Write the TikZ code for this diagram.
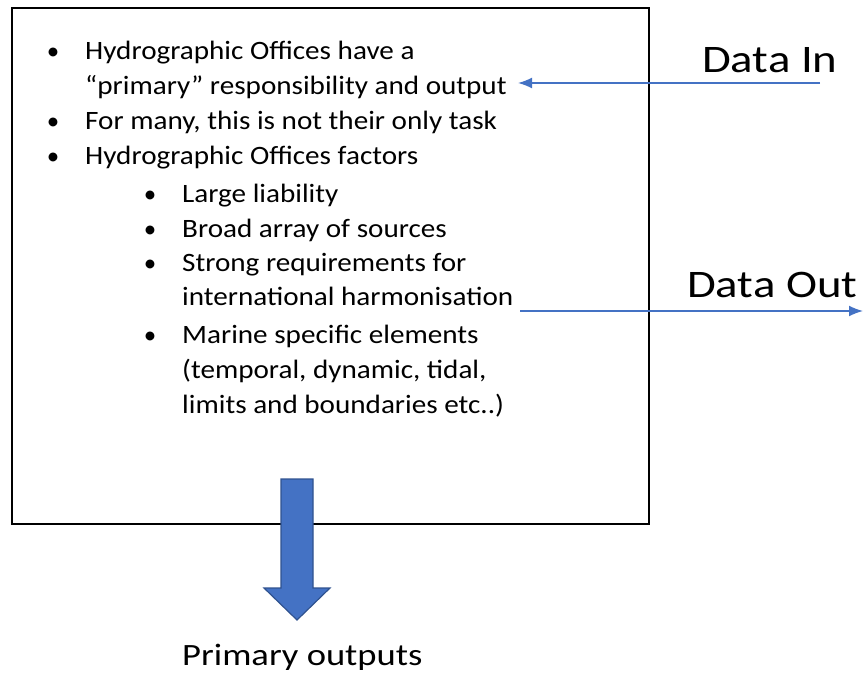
\documentclass[tikz,border=0pt]{standalone}
\usepackage{fontspec}
\usepackage{graphicx}
\setmainfont{Carlito}
\usetikzlibrary{arrows.meta}
\definecolor{arrblue}{HTML}{4472C4}
\definecolor{arrdark}{HTML}{2F528F}
\newcommand\hsb[1]{\scalebox{1.10}[1]{#1}}
\newcommand\hsl[1]{\scalebox{1.2}[1]{#1}}
\newcommand\hsm[1]{\scalebox{1.18}[1]{#1}}
\begin{document}
\begin{tikzpicture}[x=1pt,y=-1pt,
  txt/.style={anchor=base west,inner sep=0pt,font=\fontsize{26.5}{30}\selectfont},
  bul/.style={anchor=base,inner sep=0pt,font=\fontsize{25}{30}\selectfont},
  big/.style={anchor=base west,inner sep=0pt,font=\fontsize{39}{44}\selectfont},
  mid/.style={anchor=base west,inner sep=0pt,font=\fontsize{31}{36}\selectfont},
  flow/.style={draw=arrblue,line width=1.6pt,-{Latex[length=14pt,width=11pt]}}]
\useasboundingbox (0,0) rectangle (863,674);
\node[draw=black,line width=1.8pt,minimum width=637pt,minimum height=516pt,anchor=north west,inner sep=0pt] (box) at (11,7) {};
% level 1
\node[bul] (b1) at (53,60) {•};
\node[txt] (t1) at (85,60) {\hsb{Hydrographic Offices have a}};
\node[txt] (t2) at (85,95) {\hsb{“primary” responsibility and output}};
\node[bul] (b2) at (53,130) {•};
\node[txt] (t3) at (85,130) {\hsb{For many, this is not their only task}};
\node[bul] (b3) at (53,165) {•};
\node[txt] (t4) at (85,165) {\hsb{Hydrographic Offices factors}};
% level 2
\node[bul] (b4) at (150,203) {•};
\node[txt] (t5) at (182,203) {\hsb{Large liability}};
\node[bul] (b5) at (150,237) {•};
\node[txt] (t6) at (182,237) {\hsb{Broad array of sources}};
\node[bul] (b6) at (150,271) {•};
\node[txt] (t7) at (182,271) {\hsb{Strong requirements for}};
\node[txt] (t8) at (182,305) {\hsb{international harmonisation}};
\node[bul] (b7) at (150,343) {•};
\node[txt] (t9) at (182,343) {\hsb{Marine specific elements}};
\node[txt] (t10) at (182,378) {\hsb{(temporal, dynamic, tidal,}};
\node[txt] (t11) at (182,413) {\hsb{limits and boundaries etc..)}};
% side labels
\node[big] (din) at (702,73) {\hsl{Data In}};
\node[big] (dout) at (687,298) {\hsl{Data Out}};
\node[mid] (pout) at (182,665) {\hsm{Primary outputs}};
% connectors
\coordinate (inS) at (820,83);
\coordinate (inE) at (518,83);
\coordinate (outS) at (520,311);
\coordinate (outE) at (863,311);
\draw[flow] (inS) -- (inE);
\draw[flow] (outS) -- (outE);
% block arrow
\draw[fill=arrblue,draw=arrdark,line width=1.2pt,line join=miter]
  (281,479) -- (313,479) -- (313,588) -- (330,588) -- (297,620) -- (264,588) -- (281,588) -- cycle;
\end{tikzpicture}
\end{document}
